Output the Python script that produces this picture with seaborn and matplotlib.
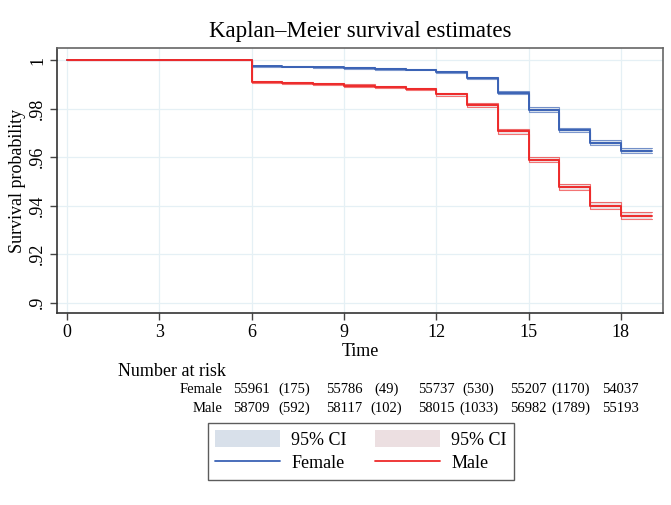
import numpy as np
import pandas as pd
import seaborn as sns
import matplotlib.pyplot as plt
import matplotlib.transforms as mtransforms
from matplotlib.patches import Patch
from matplotlib.lines import Line2D

# step start times (last entry closes the final step)
times = [0, 6, 7, 8, 9, 10, 11, 12, 13, 14, 15, 16, 17, 18, 19]
female_surv = [1.0, .9975, .9973, .9970, .9967, .9964, .9961, .9952, .9926,
               .9866, .9796, .9712, .9660, .9627, .9627]
male_surv = [1.0, .9911, .9906, .9901, .9895, .9889, .9880, .9859, .9815,
             .9706, .9589, .9476, .9400, .9358, .9358]
# half width of the 95% CI
female_ci = [0, .0002, .0002, .0003, .0003, .0003, .0003, .0004, .0005,
             .0007, .0009, .0010, .0011, .0012, .0012]
male_ci = [0, .0004, .0004, .0004, .0005, .0005, .0005, .0006, .0007,
           .0009, .0011, .0012, .0013, .0014, .0014]

# number at risk table
risk_times = [6, 9, 12, 15, 18]
female_risk = [55961, 55786, 55737, 55207, 54037]
female_cens = [175, 49, 530, 1170]
male_risk = [58709, 58117, 58015, 56982, 55193]
male_cens = [592, 102, 1033, 1789]

yticks = [.9, .92, .94, .96, .98, 1]
ytick_labels = ['.9', '.92', '.94', '.96', '.98', '1']
xticks = [0, 3, 6, 9, 12, 15, 18]

blue = '#3a62b5'
red = '#ee2a2a'
blue_fill = '#d8e0ea'
red_fill = '#ecdfe1'

sns.set_theme(style='white')
plt.rcParams['font.family'] = ['Liberation Serif', 'DejaVu Serif']
plt.rcParams['text.color'] = 'black'
plt.rcParams['axes.labelcolor'] = 'black'
plt.rcParams['xtick.color'] = 'black'
plt.rcParams['ytick.color'] = 'black'

df = pd.concat([
    pd.DataFrame({'time': times, 'surv': female_surv, 'sex': 'Female'}),
    pd.DataFrame({'time': times, 'surv': male_surv, 'sex': 'Male'}),
])

fig = plt.figure(figsize=(6.71, 5.05), dpi=100)
ax = fig.add_axes([0.085, 0.380, 0.903, 0.525])

# CI bands with outline lines
for surv, ci, col, fcol in [(female_surv, female_ci, blue, blue_fill),
                            (male_surv, male_ci, red, red_fill)]:
    s = np.array(surv)
    c = np.array(ci)
    ax.fill_between(times, s - c, s + c, step='post', color=fcol, alpha=0.9,
                    linewidth=0, zorder=2)
    ax.step(times, s - c, where='post', color=col, alpha=0.65, lw=0.8, zorder=3)
    ax.step(times, s + c, where='post', color=col, alpha=0.65, lw=0.8, zorder=3)

sns.lineplot(data=df, x='time', y='surv', hue='sex', palette=[blue, red],
             drawstyle='steps-post', estimator=None, linewidth=1.4,
             legend=False, ax=ax, zorder=4)

ax.set_xlim(-0.33, 19.37)
ax.set_ylim(0.8957, 1.005)
ax.set_xticks(xticks)
ax.set_xticklabels([str(t) for t in xticks], fontsize=13)
ax.set_yticks(yticks)
ax.set_yticklabels(ytick_labels, fontsize=13, rotation=90, va='center')
ax.grid(True, color='#e5f0f5', linewidth=0.9)
ax.set_axisbelow(True)
ax.tick_params(axis='both', direction='out', length=5, width=1, color='#444444',
               left=True, bottom=True, pad=3)
for side in ['left', 'bottom', 'top', 'right']:
    ax.spines[side].set_visible(True)
    ax.spines[side].set_linewidth(1.2)
ax.spines['left'].set_color('#333333')
ax.spines['bottom'].set_color('#333333')
ax.spines['top'].set_color('#666666')
ax.spines['right'].set_color('#666666')

ax.set_title('Kaplan\u2013Meier survival estimates', fontsize=16.5, pad=8)
ax.set_xlabel('Time', fontsize=13, labelpad=1)
ax.set_ylabel('Survival probability', fontsize=13, labelpad=2)

# number at risk
trans = mtransforms.blended_transform_factory(ax.transData, fig.transFigure)
fig.text(0.176, 0.265, 'Number at risk', fontsize=13, ha='left', va='center')
cens_times = [(a + b) / 2 - 0.12 for a, b in zip(risk_times[:-1], risk_times[1:])]
for label, risk, cens, yy in [('Female', female_risk, female_cens, 0.2297),
                              ('Male', male_risk, male_cens, 0.192)]:
    fig.text(0.332, yy, label, fontsize=10.5, ha='right', va='center')
    for t, n in zip(risk_times, risk):
        ax.text(t, yy, str(n), transform=trans, fontsize=10.5,
                ha='center', va='center')
    for t, n in zip(cens_times, cens):
        ax.text(t, yy, '(%d)' % n, transform=trans, fontsize=10.5,
                ha='center', va='center')

handles = [Patch(facecolor=blue_fill, edgecolor='none'),
           Line2D([], [], color=blue, lw=1.3),
           Patch(facecolor=red_fill, edgecolor='none'),
           Line2D([], [], color=red, lw=1.3)]
labels = ['95% CI', 'Female', '95% CI', 'Male']
leg = fig.legend(handles, labels, ncol=2, loc='upper left',
                 bbox_to_anchor=(0.31, 0.162), fontsize=13, frameon=True,
                 fancybox=False, handlelength=3.6, handleheight=1.0,
                 columnspacing=1.6, handletextpad=0.6, labelspacing=0.3,
                 borderpad=0.4, borderaxespad=0)
leg.get_frame().set_edgecolor('#333333')
leg.get_frame().set_linewidth(1.0)

fig.savefig('out.png', dpi=100, facecolor='white')
